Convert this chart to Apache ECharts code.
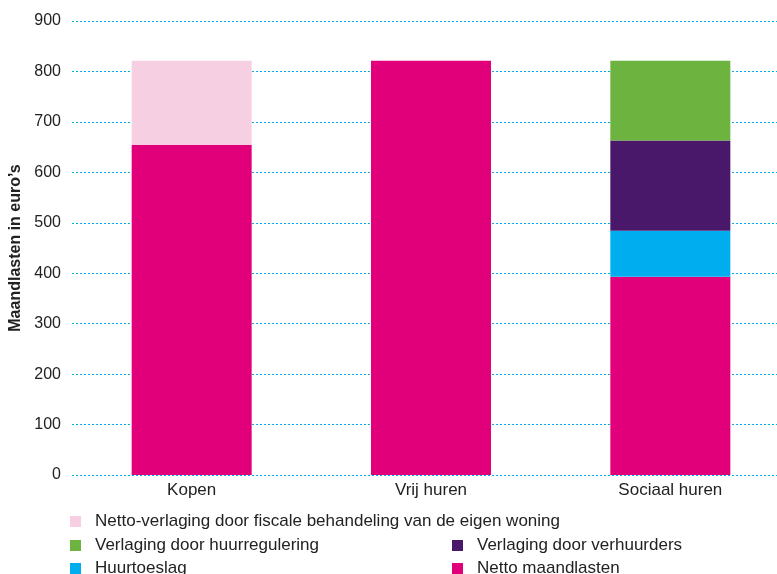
<!DOCTYPE html>
<html><head><meta charset="utf-8">
<script src="https://cdn.jsdelivr.net/npm/echarts@6/dist/echarts.min.js"></script>
<style>html,body{margin:0;padding:0;background:#fff}#c{width:777px;height:574px}</style>
</head><body><div id="c"></div>
<script>
const categories = ['Kopen', 'Vrij huren', 'Sociaal huren'];
const nettoMaandlasten = [654, 821, 393];
const fiscaal = [167, '-', '-'];
const huurtoeslag = ['-', '-', 91];
const verhuurders = ['-', '-', 179];
const huurregulering = ['-', '-', 158];
const yTicks = {min: 0, max: 900, interval: 100};

const names = {
  netto: 'Netto maandlasten',
  fisc: 'Netto-verlaging door fiscale behandeling van de eigen woning',
  regul: 'Verlaging door huurregulering',
  verh: 'Verlaging door verhuurders',
  toesl: 'Huurtoeslag'
};
const font = '"Liberation Sans", Arial, sans-serif';
function leg(name, left, cy) {
  return {
    data: [name], left, top: cy - 12, height: 20, orient: 'horizontal',
    icon: 'rect', itemWidth: 11, itemHeight: 11,
    textStyle: {fontFamily: font, fontSize: 17, color: '#222', padding: [0, 0, 0, 9]},
    selectedMode: false
  };
}
const chart = echarts.init(document.getElementById('c'), null, {renderer: 'canvas'});
function bar(name, data, color) {
  return {name, type: 'bar', stack: 's', data, barWidth: 120, itemStyle: {color}, emphasis: {disabled: true}};
}
chart.setOption({
  animation: false,
  grid: {left: 72, width: 718, top: 21, bottom: 99, containLabel: false, outerBoundsMode: 'none'},
  legend: [
    leg(names.fisc, 65, 520),
    leg(names.regul, 65, 544),
    leg(names.toesl, 65, 567),
    leg(names.verh, 447, 544),
    leg(names.netto, 447, 567)
  ],
  xAxis: {
    type: 'category', data: categories,
    axisLine: {show: false}, axisTick: {show: false},
    axisLabel: {fontFamily: font, fontSize: 17, color: '#222', margin: 7}
  },
  yAxis: {
    type: 'value', min: yTicks.min, max: yTicks.max, interval: yTicks.interval,
    name: 'Maandlasten in euro\u2019s', nameLocation: 'middle', nameGap: 47,
    nameTextStyle: {fontFamily: font, fontSize: 16, fontWeight: 'bold', color: '#222'},
    axisLine: {show: false}, axisTick: {show: false},
    axisLabel: {fontFamily: font, fontSize: 16, color: '#222', margin: 11},
    splitLine: {lineStyle: {color: '#00aeef', type: [2, 2], width: 1}}
  },
  series: [
    bar(names.netto, nettoMaandlasten, '#e2007a'),
    bar(names.toesl, huurtoeslag, '#00aeef'),
    bar(names.verh, verhuurders, '#4a186b'),
    bar(names.regul, huurregulering, '#6db33f'),
    bar(names.fisc, fiscaal, '#f7cfe2')
  ]
});
</script></body></html>
